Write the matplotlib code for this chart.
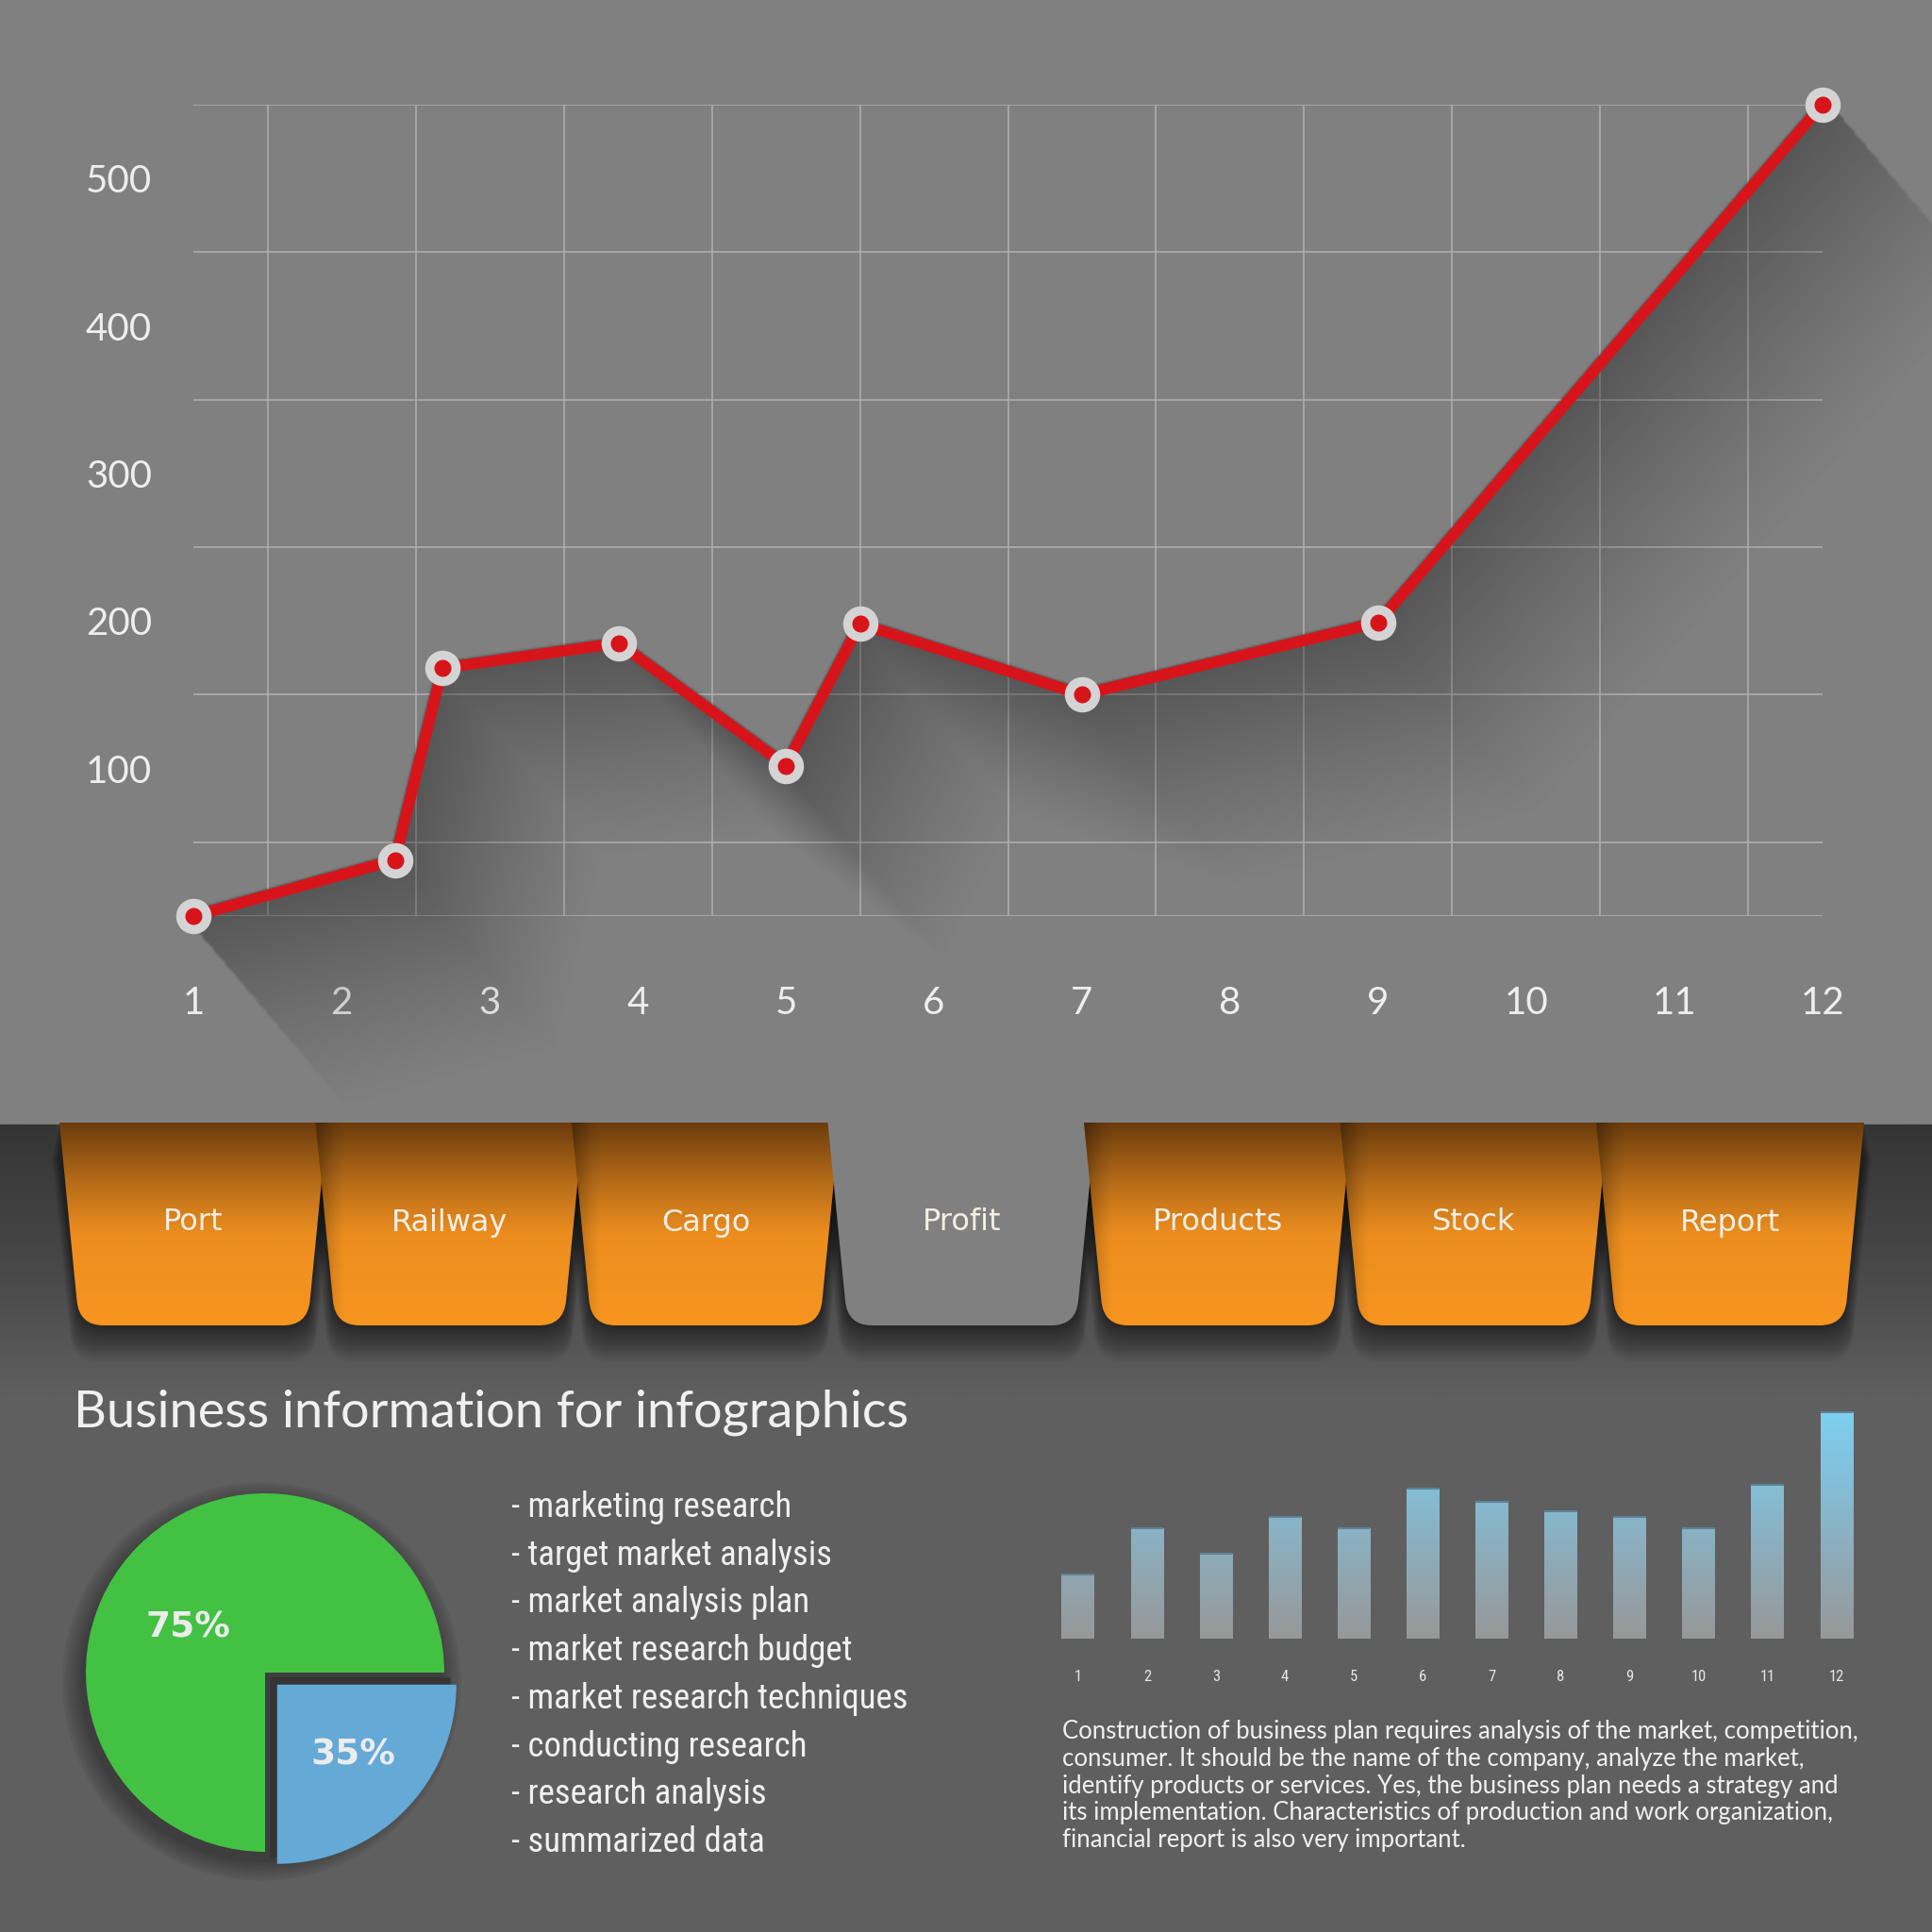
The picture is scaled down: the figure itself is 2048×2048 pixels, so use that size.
import numpy as np
import matplotlib
matplotlib.use('Agg')
import matplotlib.pyplot as plt
from matplotlib import font_manager
from matplotlib.path import Path
from matplotlib.patches import PathPatch, Rectangle, Circle, Wedge
from matplotlib.colors import LinearSegmentedColormap
from matplotlib.transforms import Affine2D

# ---- data ----
line_x = [1, 2.36, 2.68, 3.87, 5.0, 5.5, 7.0, 9.0, 12.0]
line_y = [0, 38, 168, 185, 102, 198, 150, 199, 550]
x_ticks = list(range(1, 13))
y_ticks = [100, 200, 300, 400, 500]

tabs = ['Port', 'Railway', 'Cargo', 'Profit', 'Products', 'Stock', 'Report']
active_tab = 'Profit'

pie_values = [75, 25]
pie_labels = ['75%', '35%']

bar_months = list(range(1, 13))
bar_values = [68, 117, 90, 129, 117, 159, 145, 135, 129, 117, 163, 240]

title = 'Business information for infographics'
bullets = ['marketing research', 'target market analysis', 'market analysis plan',
           'market research budget', 'market research techniques',
           'conducting research', 'research analysis', 'summarized data']
paragraph = ['Construction of business plan requires analysis of the market, competition,',
             'consumer. It should be the name of the company, analyze the market,',
             'identify products or services. Yes, the business plan needs a strategy and',
             'its implementation. Characteristics of production and work organization,',
             'financial report is also very important.']

# ---- fonts ----
installed = {f.name for f in font_manager.fontManager.ttflist}
def pick(*names):
    for n in names:
        if n in installed:
            return n
    return 'DejaVu Sans'
MAIN = pick('Lato', 'Open Sans', 'Noto Sans')
NARROW = pick('Liberation Sans Narrow', 'Roboto Condensed', 'Lato')
plt.rcParams['font.family'] = [MAIN, 'DejaVu Sans']

TOP = '#808080'
BOTTOM = '#5f5f5f'
TXT = '#f0f0f0'

W = H = 2048
fig = plt.figure(figsize=(20.48, 20.48), dpi=100)

# background axes in pixel coords (y down)
bg = fig.add_axes([0, 0, 1, 1])
bg.axis('off')
bg.add_patch(Rectangle((0, 0), W, 1192, color=TOP, zorder=0))
bg.add_patch(Rectangle((0, 1192), W, H - 1192, color=BOTTOM, zorder=0))
band = np.linspace(0, 1, 256)[:, None]
cm_band = LinearSegmentedColormap.from_list('band', ['#353535', '#474747', '#5f5f5f'])
bg.imshow(band, cmap=cm_band, extent=[0, W, 1480, 1192], aspect='auto', zorder=1)

# tabs
TAB_TOP, TAB_BOT = 1190, 1405
centers = 205 + 271.5 * np.arange(len(tabs))

def tab_path(cx, top_hw=142, bot_hw=121, r=26):
    x0t, x1t = cx - top_hw, cx + top_hw
    x0b, x1b = cx - bot_hw, cx + bot_hw
    frac = (TAB_BOT - r - TAB_TOP) / (TAB_BOT - TAB_TOP)
    xl = x0t + (x0b - x0t) * frac
    xr = x1t + (x1b - x1t) * frac
    verts = [(x0t, TAB_TOP), (xl, TAB_BOT - r), (x0b, TAB_BOT), (x0b + r, TAB_BOT),
             (x1b - r, TAB_BOT), (x1b, TAB_BOT), (xr, TAB_BOT - r), (x1t, TAB_TOP), (x0t, TAB_TOP)]
    codes = [Path.MOVETO, Path.LINETO, Path.CURVE3, Path.CURVE3, Path.LINETO,
             Path.CURVE3, Path.CURVE3, Path.LINETO, Path.CLOSEPOLY]
    return Path(verts, codes)

cm_tab = LinearSegmentedColormap.from_list(
    'tab', [(0, '#6b3c0d'), (0.3, '#b86d19'), (0.55, '#ec8d1f'), (1, '#f7951f')])
ramp = np.zeros((1, 64, 4))
ramp[..., 3] = np.linspace(0.5, 0, 64) ** 1.5

for i, (name, cx) in enumerate(zip(tabs, centers)):
    p = tab_path(cx)
    for k in range(2, 40, 2):
        sc = 1 + k * 0.0015
        tr = Affine2D().translate(-cx, -TAB_TOP).scale(sc, 1).translate(cx, TAB_TOP + k)
        bg.add_patch(PathPatch(p, transform=tr + bg.transData, facecolor='black',
                               edgecolor='none', alpha=0.028, zorder=2))
    if name == active_tab:
        bg.add_patch(PathPatch(p, facecolor=TOP, edgecolor='none', zorder=3))
    else:
        patch = PathPatch(p, facecolor='none', edgecolor='none', zorder=3)
        bg.add_patch(patch)
        im = bg.imshow(band, cmap=cm_tab, extent=[cx - 150, cx + 150, TAB_BOT, TAB_TOP],
                       aspect='auto', zorder=3)
        im.set_clip_path(patch)
        if i > 0:
            im2 = bg.imshow(ramp, extent=[cx - 144, cx - 110, TAB_BOT, TAB_TOP],
                            aspect='auto', zorder=4)
            im2.set_clip_path(patch)
    bg.text(cx, 1296, name, ha='center', va='center', fontsize=23,
            family='DejaVu Sans', color='#f3efe6', zorder=5)

# texts
bg.text(78, 1512, title, fontsize=39, family=MAIN, color=TXT, va='baseline')
for i, b in enumerate(bullets):
    bg.text(542, 1608 + 50.7 * i, '- ' + b, fontsize=26.5, family=NARROW,
            color=TXT, va='baseline')
for i, line in enumerate(paragraph):
    bg.text(1126, 1843 + 28.75 * i, line, fontsize=18.5, family=MAIN,
            color=TXT, va='baseline')
bg.set_xlim(0, W)
bg.set_ylim(H, 0)

# ---- line chart ----
ax = fig.add_axes([205.3 / W, 1 - 971 / H, (1931.7 - 205.3) / W, 860 / H])
ax.set_xlim(1, 12)
ax.set_ylim(0, 550)
ax.patch.set_alpha(0)
for s in ax.spines.values():
    s.set_visible(False)
ax.set_xticks(x_ticks)
ax.set_yticks(y_ticks)
ax.set_xticks(np.arange(1, 12.01, 0.5), minor=True)
ax.set_yticks(np.arange(0, 551, 50), minor=True)
ax.set_axisbelow(True)
ax.grid(which='minor', color='#b0b0b0', lw=1.1)
ax.tick_params(which='both', length=0)
ax.tick_params(axis='y', pad=32, labelsize=29, labelcolor='#eeeeee')
ax.tick_params(axis='x', pad=53, labelsize=29, labelcolor='#eeeeee')

# long shadow of the line, rasterised in display pixels
pts = ax.transData.transform(np.column_stack([line_x, line_y]))
cell = 2
n = W // cell
cc = (np.arange(n) + 0.5) * cell
GX, GY = np.meshgrid(cc, cc)
dist = np.full(GX.shape, np.inf)
for (x0, y0), (x1, y1) in zip(pts[:-1], pts[1:]):
    dx, dy = x1 - x0, y1 - y0
    t = np.clip(((GX - x0) * dx + (GY - y0) * dy) / (dx * dx + dy * dy), 0, 1)
    dist = np.minimum(dist, np.hypot(GX - x0 - t * dx, GY - y0 - t * dy))
mask = np.clip((7.0 - dist) / cell + 0.5, 0, 1)
K = 100
shade = mask * 0.32
for k in range(1, K):
    kx = int(round(k * 0.85))
    s = np.zeros_like(mask)
    if kx > 0:
        s[:-k, kx:] = mask[k:, :-kx]
    else:
        s[:-k, :] = mask[k:, :]
    shade = np.maximum(shade, s * 0.32 * (1 - k / K) ** 1.2)
shade[GY < H - 1192] = 0
rgba = np.zeros((n, n, 4))
rgba[..., 3] = shade
inv = ax.transData.inverted()
ex0, ey0 = inv.transform((0, 0))
ex1, ey1 = inv.transform((W, H))
ax.imshow(rgba, origin='lower', extent=[ex0, ex1, ey0, ey1], aspect='auto',
          interpolation='bilinear', clip_on=False, zorder=1)
ax.plot(line_x, line_y, color='#d8141b', lw=8.5, marker='o', ms=20, mfc='#d8141b',
        mec='#d4d4d4', mew=7, clip_on=False, zorder=3)
ax.set_xlim(1, 12)
ax.set_ylim(0, 550)

# ---- pie ----
R = 190
pcx, pcy = 281, 1773
half = R * 1.35
pax = fig.add_axes([(pcx - half) / W, 1 - (pcy + half) / H, 2 * half / W, 2 * half / H])
for i in range(10):
    pax.add_patch(Circle((-0.02, -0.05), 1.0 + 0.012 * i, color='black', alpha=0.035, zorder=0))
wedges, _ = pax.pie(pie_values, colors=['#42c143', '#65a9d7'], startangle=0,
                    counterclock=True, explode=[0, 0.095], radius=1,
                    wedgeprops=dict(linewidth=0))
for w in wedges:
    w.set_zorder(3)
pax.add_patch(Wedge((0.03, -0.03), 1.0, 270, 360, color='#353535', alpha=0.9, zorder=2))
pax.text(-0.43, 0.25, pie_labels[0], ha='center', va='center', fontsize=27,
         family='DejaVu Sans', weight='bold', color='#ececec', zorder=4)
pax.text(0.49, -0.46, pie_labels[1], ha='center', va='center', fontsize=27,
         family='DejaVu Sans', weight='bold', color='#ececec', zorder=4)
pax.set_xlim(-1.35, 1.35)
pax.set_ylim(-1.35, 1.35)
pax.axis('off')

# ---- bars ----
bax = fig.add_axes([1106.2 / W, 1 - 1736.7 / H, 877.1 / W, 250 / H])
bax.patch.set_alpha(0)
for s in bax.spines.values():
    s.set_visible(False)
bw = 0.472
bars = bax.bar(bar_months, bar_values, width=bw, color='none', edgecolor='none')
cm_bar = LinearSegmentedColormap.from_list(
    'bar', [(0, '#989898'), (0.3, '#8fa8b3'), (0.65, '#85bcd5'), (1, '#7ecff0')])
for b in bars:
    im = bax.imshow(band, cmap=cm_bar, origin='lower',
                    extent=[0.5, 12.5, 0, max(bar_values)], aspect='auto', zorder=2)
    im.set_clip_path(b)
bm = np.array(bar_months)
bax.hlines(bar_values, bm - bw / 2, bm + bw / 2, colors='#5e8396', lw=1.5, zorder=3)
bax.set_xlim(0.5, 12.5)
bax.set_ylim(0, 250)
bax.set_xticks(bar_months)
bax.set_yticks([])
bax.tick_params(length=0, pad=24, labelsize=12, labelcolor='#e6e6e6')
for lbl in bax.get_xticklabels():
    lbl.set_family(NARROW)

fig.savefig('out.png', dpi=100)
